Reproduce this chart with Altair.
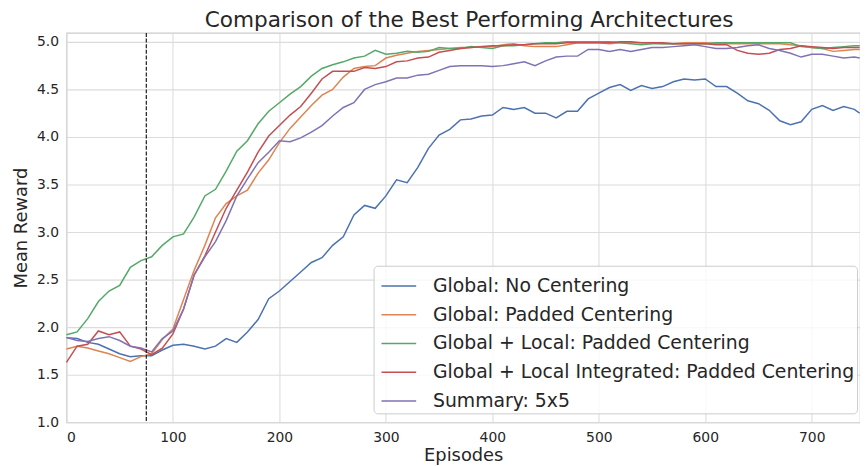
import altair as alt
import pandas as pd

episodes = list(range(0, 750, 10)) + [745]

names = [
    "Global: No Centering",
    "Global: Padded Centering",
    "Global + Local: Padded Centering",
    "Global + Local Integrated: Padded Centering",
    "Summary: 5x5",
]
colors = ["#4C72B0", "#DD8452", "#55A868", "#C44E52", "#8172B3"]

no_centering = [
    1.89, 1.88, 1.84, 1.82, 1.77, 1.72, 1.69, 1.70, 1.70, 1.76,
    1.81, 1.82, 1.80, 1.77, 1.80, 1.88, 1.84, 1.95, 2.08, 2.30,
    2.38, 2.48, 2.58, 2.68, 2.73, 2.86, 2.95, 3.18, 3.28, 3.25,
    3.38, 3.55, 3.52, 3.68, 3.88, 4.02, 4.08, 4.18, 4.19, 4.22,
    4.23, 4.31, 4.29, 4.31, 4.25, 4.25, 4.20, 4.27, 4.27, 4.40,
    4.46, 4.52, 4.55, 4.49, 4.54, 4.51, 4.53, 4.58, 4.61, 4.60,
    4.61, 4.53, 4.53, 4.46, 4.38, 4.35, 4.28, 4.17, 4.13, 4.16,
    4.29, 4.33, 4.28, 4.32, 4.29, 4.25,
]
padded = [
    1.77, 1.80, 1.78, 1.75, 1.72, 1.68, 1.64, 1.69, 1.72, 1.87,
    1.98, 2.29, 2.60, 2.86, 3.15, 3.30, 3.38, 3.44, 3.62, 3.76,
    3.94, 4.09, 4.21, 4.33, 4.44, 4.50, 4.63, 4.72, 4.74, 4.75,
    4.83, 4.86, 4.88, 4.90, 4.91, 4.92, 4.93, 4.94, 4.94, 4.95,
    4.95, 4.97, 4.98, 4.96, 4.95, 4.95, 4.95, 4.97, 4.99, 4.99,
    4.99, 4.98, 4.99, 4.99, 4.99, 4.99, 4.98, 4.98, 4.99, 4.99,
    4.99, 4.98, 4.98, 4.98, 4.98, 4.98, 4.98, 4.98, 4.97, 4.96,
    4.94, 4.93, 4.90, 4.91, 4.92, 4.92,
]
global_local = [
    1.92, 1.95, 2.09, 2.27, 2.38, 2.44, 2.63, 2.70, 2.74, 2.86,
    2.95, 2.98, 3.16, 3.38, 3.45, 3.64, 3.85, 3.96, 4.14, 4.27,
    4.36, 4.45, 4.53, 4.64, 4.72, 4.76, 4.79, 4.83, 4.85, 4.91,
    4.87, 4.88, 4.90, 4.89, 4.90, 4.94, 4.93, 4.93, 4.95, 4.94,
    4.93, 4.96, 4.96, 4.97, 4.98, 4.99, 4.99, 5.00, 5.00, 5.00,
    5.00, 5.00, 4.99, 4.98, 4.97, 4.98, 4.98, 4.98, 4.98, 4.98,
    4.98, 4.99, 4.99, 4.99, 4.99, 4.99, 4.99, 4.99, 4.99, 4.95,
    4.94, 4.93, 4.94, 4.95, 4.96, 4.96,
]
integrated = [
    1.63, 1.80, 1.82, 1.96, 1.92, 1.95, 1.80, 1.77, 1.71, 1.78,
    1.93, 2.19, 2.55, 2.75, 3.00, 3.25, 3.44, 3.63, 3.84, 4.01,
    4.12, 4.23, 4.32, 4.46, 4.61, 4.69, 4.69, 4.69, 4.73, 4.72,
    4.74, 4.79, 4.80, 4.83, 4.84, 4.89, 4.91, 4.93, 4.94, 4.95,
    4.96, 4.96, 4.97, 4.97, 4.98, 4.98, 4.98, 4.99, 4.99, 4.99,
    4.99, 4.99, 5.00, 5.00, 4.99, 4.99, 4.99, 4.98, 4.98, 4.98,
    4.98, 4.97, 4.97, 4.91, 4.88, 4.87, 4.88, 4.92, 4.93, 4.96,
    4.95, 4.94, 4.93, 4.94, 4.94, 4.94,
]
summary = [
    1.89, 1.86, 1.85, 1.88, 1.90, 1.86, 1.80, 1.78, 1.74, 1.88,
    1.96, 2.19, 2.55, 2.74, 2.90, 3.12, 3.38, 3.56, 3.73, 3.84,
    3.96, 3.95, 3.99, 4.05, 4.12, 4.22, 4.31, 4.36, 4.50, 4.55,
    4.58, 4.62, 4.62, 4.65, 4.66, 4.70, 4.74, 4.75, 4.75, 4.75,
    4.74, 4.75, 4.77, 4.79, 4.75, 4.80, 4.84, 4.85, 4.85, 4.92,
    4.92, 4.90, 4.92, 4.90, 4.92, 4.94, 4.94, 4.95, 4.96, 4.97,
    4.95, 4.93, 4.93, 4.94, 4.96, 4.97, 4.93, 4.91, 4.88, 4.84,
    4.87, 4.87, 4.85, 4.83, 4.84, 4.83,
]

series_values = [no_centering, padded, global_local, integrated, summary]

rows = []
for name, vals in zip(names, series_values):
    for ep, v in zip(episodes, vals):
        rows.append({"episode": ep, "value": v, "series": name})
df = pd.DataFrame(rows)

x_ticks = [0, 100, 200, 300, 400, 500, 600, 700]
y_ticks = [1.0, 1.5, 2.0, 2.5, 3.0, 3.5, 4.0, 4.5, 5.0]
marker_episode = [75]

x_enc = alt.X(
    "episode:Q",
    scale=alt.Scale(domain=[0, 745.3], nice=False, zero=False),
    axis=alt.Axis(
        values=x_ticks, title="Episodes", format="d",
        titleBaseline="alphabetic", titleY=39, labelPadding=8,
    ),
)

lines = alt.Chart(df).mark_line(strokeWidth=1.5).encode(
    x=x_enc,
    y=alt.Y(
        "value:Q",
        scale=alt.Scale(domain=[1.0, 5.094], nice=False, zero=False),
        axis=alt.Axis(
            values=y_ticks, format=".1f", title="Mean Reward",
            titleBaseline="alphabetic", titleX=-40, labelPadding=8,
        ),
    ),
    color=alt.Color(
        "series:N",
        sort=names,
        scale=alt.Scale(domain=names, range=colors),
        legend=alt.Legend(
            title=None,
            orient="none",
            legendX=310,
            legendY=235,
            labelFontSize=19,
            labelFont="DejaVu Sans",
            labelColor="#262626",
            labelLimit=700,
            symbolType="stroke",
            symbolStrokeWidth=1.5,
            symbolSize=1225,
            symbolOffset=5,
            rowPadding=0,
            padding=2,
            labelOffset=16,
            fillColor="rgba(255,255,255,0.8)",
            strokeColor="#cccccc",
            cornerRadius=4,
        ),
    ),
)

rule = alt.Chart(pd.DataFrame({"episode": marker_episode})).mark_rule(
    color="#1a1a1a", strokeWidth=1.2, strokeDash=[4, 1.7]
).encode(x=alt.X("episode:Q"))

chart = (
    alt.layer(lines, rule)
    .properties(
        width=801,
        height=393,
        padding={"left": 59, "top": 23, "right": 0, "bottom": 43},
        autosize=alt.AutoSizeParams(type="none"),
        title=alt.TitleParams(
            "Comparison of the Best Performing Architectures",
            fontSize=21.8,
            font="DejaVu Sans",
            fontWeight="normal",
            color="#262626",
            anchor="middle",
            dx=6,
            offset=1,
        ),
    )
    .configure_view(stroke="#cccccc", strokeWidth=1.2)
    .configure_axis(
        labelFont="DejaVu Sans",
        labelFontSize=14,
        labelColor="#262626",
        titleFont="DejaVu Sans",
        titleFontSize=18,
        titleFontWeight="normal",
        titleColor="#262626",
        grid=True,
        gridColor="#dcdcdc",
        gridWidth=1.1,
        domain=False,
        ticks=False,
        tickSize=0,
    )
)

chart.save("out.html", embed_options={"renderer": "svg", "actions": False})
